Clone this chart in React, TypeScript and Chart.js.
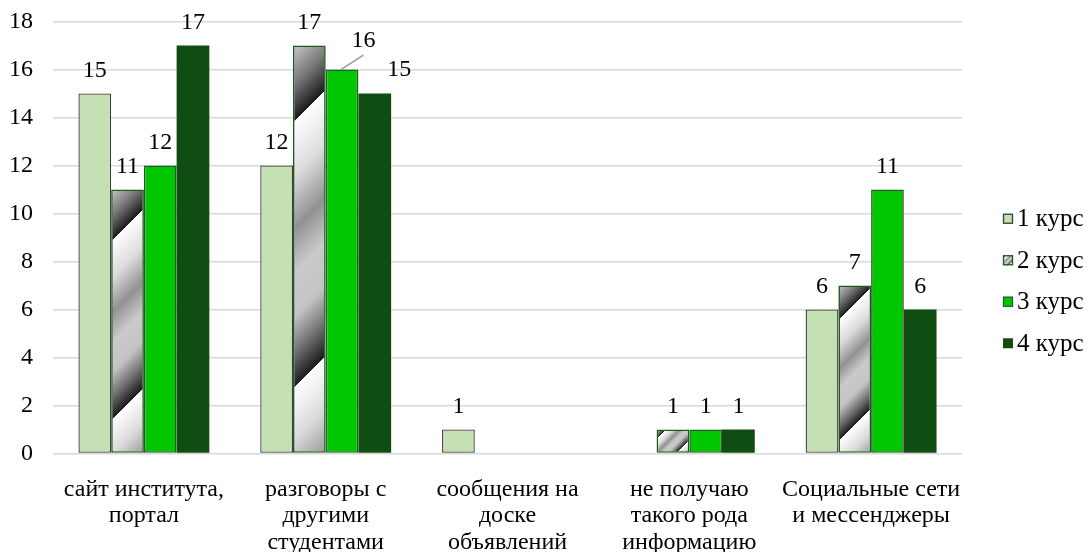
import React, { useEffect, useRef } from "react";
import { Chart, registerables } from "chart.js";

Chart.register(...registerables);

const categories: string[][] = [
  ["сайт института,", "портал"],
  ["разговоры с", "другими", "студентами"],
  ["сообщения на", "доске", "объявлений"],
  ["не получаю", "такого рода", "информацию"],
  ["Социальные сети", "и мессенджеры"],
];
const seriesNames = ["1 курс", "2 курс", "3 курс", "4 курс"];
const course1 = [15, 12, 1, 0, 6];
const course2 = [11, 17, 0, 1, 7];
const course3 = [12, 16, 0, 1, 11];
const course4 = [17, 15, 0, 1, 6];
const yMin = 0;
const yMax = 18;
const yStep = 2;

const FONT = "'Liberation Serif', 'Times New Roman', serif";
const FS = 24;
const LEGEND_FS = 25;
const TEXT = "#000000";

const fills = ["#c5e0b4", "pattern", "#00c800", "#0f4d13"];
const borders = ["#3c3c3c", "#1d5a1d", "#1f5f1f", "#0f4d13"];
const borderWidths = [1.3, 1.6, 1.6, 0];

const GRAD_STOPS: [number, string][] = [
  [0, "#c8c8c8"],
  [0.09, "#7a7a7a"],
  [0.175, "#1a1a1a"],
  [0.175, "#ffffff"],
  [0.3, "#dcdcdc"],
  [0.42, "#929292"],
  [0.52, "#cacaca"],
  [0.62, "#c4c4c4"],
  [0.7, "#747474"],
  [0.78, "#1a1a1a"],
  [0.78, "#ffffff"],
  [0.9, "#dadada"],
  [1, "#9a9a9a"],
];

function stripeGradient(ctx: CanvasRenderingContext2D, left: number, top: number, w: number, h: number) {
  const L = (w + h) / 2;
  const g = ctx.createLinearGradient(left, top, left + L, top + L);
  for (const [o, c] of GRAD_STOPS) g.addColorStop(o, c);
  return g;
}

// label nudges keyed by "datasetIndex-dataIndex"
const labelNudges: Record<string, { dx: number; dy: number; leader?: boolean }> = {
  "2-1": { dx: 21.5, dy: -6.5, leader: true },
  "3-1": { dx: 24.5, dy: -1 },
};

const dataLabelPlugin = {
  id: "barValueLabels",
  afterDatasetsDraw(chart: any) {
    const ctx: CanvasRenderingContext2D = chart.ctx;
    ctx.save();
    ctx.font = `${FS}px ${FONT}`;
    ctx.fillStyle = TEXT;
    ctx.textAlign = "center";
    ctx.textBaseline = "alphabetic";
    chart.data.datasets.forEach((ds: any, di: number) => {
      const meta = chart.getDatasetMeta(di);
      meta.data.forEach((el: any, i: number) => {
        const v = ds.data[i];
        if (!v) return;
        const n = labelNudges[`${di}-${i}`];
        const cx = el.x + (n ? n.dx : 0);
        const cy = el.y - 24.5 + (n ? n.dy : 0);
        if (n && n.leader) {
          ctx.save();
          ctx.strokeStyle = "#a6a6a6";
          ctx.lineWidth = 1.5;
          ctx.beginPath();
          ctx.moveTo(el.x - 1, el.y);
          ctx.lineTo(cx, cy + 16.5);
          ctx.stroke();
          ctx.restore();
        }
        ctx.fillText(String(v), cx, cy + 8.1);
      });
    });
    ctx.restore();
  },
};

const legendPlugin = {
  id: "sideLegend",
  afterDraw(chart: any) {
    const ctx: CanvasRenderingContext2D = chart.ctx;
    const area = chart.chartArea;
    const x0 = area.right + 41;
    const spacing = 41.5;
    const midY = 281;
    const y0 = midY - 1.5 * spacing;
    ctx.save();
    ctx.font = `${LEGEND_FS}px ${FONT}`;
    ctx.textBaseline = "middle";
    ctx.textAlign = "left";
    chart.data.datasets.forEach((ds: any, di: number) => {
      const cy = y0 + di * spacing;
      const bx = x0, by = cy - 5, bs = 10;
      if (fills[di] === "pattern") {
        ctx.fillStyle = stripeGradient(ctx, bx, by, bs, bs);
      } else {
        ctx.fillStyle = fills[di];
      }
      ctx.fillRect(bx, by, bs, bs);
      if (borderWidths[di] > 0) {
        ctx.strokeStyle = borders[di];
        ctx.lineWidth = 1.3;
        ctx.strokeRect(bx + 0.5, by + 0.5, bs - 1, bs - 1);
      }
      ctx.fillStyle = TEXT;
      ctx.fillText(ds.label, bx + 14, cy + 1);
    });
    ctx.restore();
  },
};

export default function App() {
  const ref = useRef<HTMLCanvasElement | null>(null);
  useEffect(() => {
    if (!ref.current) return;
    const seriesData = [course1, course2, course3, course4];
    const datasets = seriesData.map((d, di) => ({
      label: seriesNames[di],
      data: d,
      backgroundColor:
        fills[di] === "pattern"
          ? (c: any) => {
              const el = c.element;
              if (!el || !isFinite(el.x) || !isFinite(el.base) || !isFinite(el.width)) return "#b4b4b4";
              const top = Math.min(el.y, el.base);
              const h = Math.abs(el.base - el.y);
              return stripeGradient(c.chart.ctx, el.x - el.width / 2, top, el.width, h);
            }
          : fills[di],
      borderColor: borders[di],
      borderWidth: (c: any) => (c.raw ? borderWidths[di] : 0),
      borderSkipped: false as const,
      categoryPercentage: 0.72,
      barPercentage: 1,
    }));
    const chart = new Chart(ref.current, {
      type: "bar",
      data: { labels: categories, datasets },
      options: {
        responsive: false,
        animation: false,
        layout: { padding: { top: 21.5, right: 129, left: 0, bottom: 0 } },
        plugins: { legend: { display: false }, tooltip: { enabled: false } },
        scales: {
          x: {
            grid: { display: false },
            border: { display: false },
            ticks: {
              color: TEXT,
              font: { family: FONT, size: FS, lineHeight: 1.1 },
              padding: 15,
              maxRotation: 0,
              autoSkip: false,
            },
            afterFit: (s: any) => {
              s.height = 98.5;
              s.paddingLeft = 0;
              s.paddingRight = 0;
            },
          },
          y: {
            min: yMin,
            max: yMax,
            grid: { color: "#d9d9d9", lineWidth: 1.5, drawTicks: false },
            border: { display: false },
            ticks: {
              stepSize: yStep,
              color: TEXT,
              font: { family: FONT, size: FS, lineHeight: 1 },
              padding: 20,
            },
            afterFit: (s: any) => {
              s.width = 53;
              s.paddingTop = 0;
              s.paddingBottom = 0;
            },
          },
        },
      },
      plugins: [dataLabelPlugin, legendPlugin],
    });
    chart.update();
    return () => chart.destroy();
  }, []);
  return (
    <div style={{ position: "absolute", left: 0, top: 0, width: 1091, height: 552 }}>
      <canvas ref={ref} width={1091} height={552} />
    </div>
  );
}
